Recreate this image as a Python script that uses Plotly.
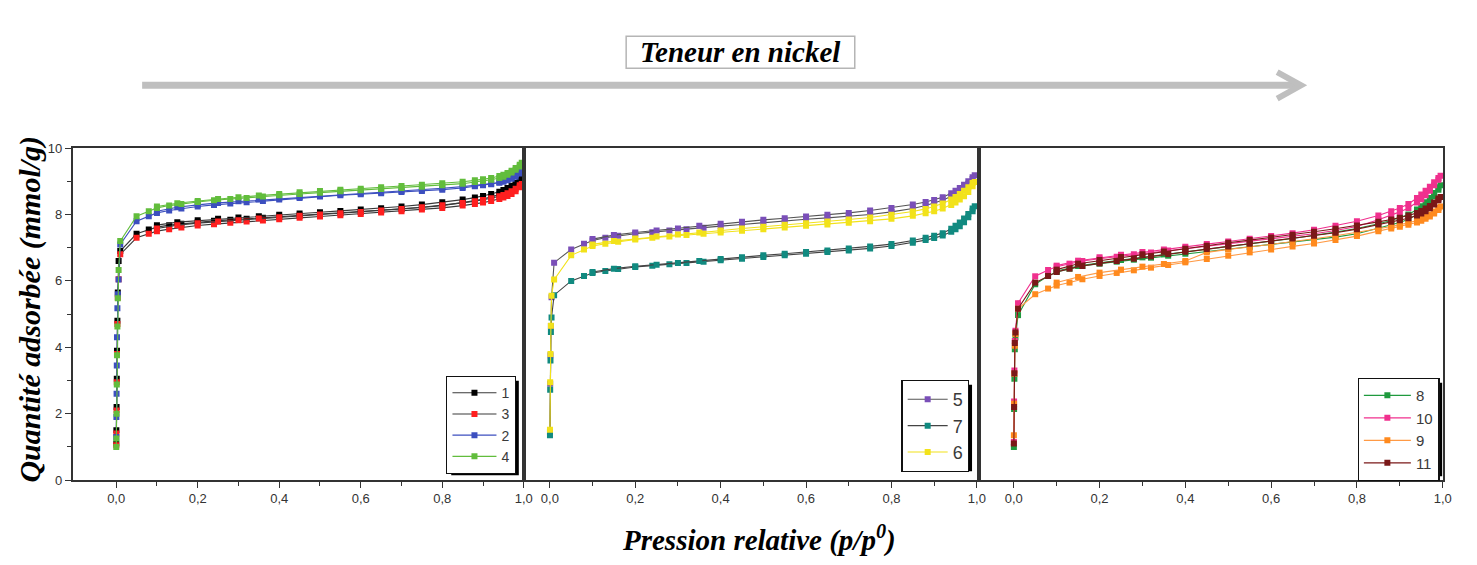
import plotly.graph_objects as go

W, H = 1477, 565


def px(x):
    return x / W


def py(y):
    return 1 - y / H


# ---------------- data ----------------
P_LOW_1 = [0.0002, 0.0005, 0.001, 0.0015, 0.002, 0.003, 0.004, 0.006]
P_LOW_2 = [0.0003, 0.0008, 0.0015, 0.0025, 0.004]
P_LOW_3 = [0.0003, 0.0008, 0.0015, 0.0025, 0.004]
P_PLATEAU = [0.01, 0.05, 0.08, 0.1, 0.13, 0.16, 0.2, 0.24, 0.28, 0.32, 0.36, 0.4, 0.45, 0.5,
             0.55, 0.6, 0.65, 0.7, 0.75, 0.8, 0.85, 0.88, 0.9, 0.92, 0.94, 0.95, 0.96, 0.97,
             0.98, 0.99, 0.995]
P_DES = [0.99, 0.98, 0.97, 0.96, 0.95, 0.94, 0.92, 0.9, 0.88, 0.85, 0.8, 0.75, 0.7, 0.65,
         0.6, 0.55, 0.5, 0.45, 0.4, 0.35, 0.3, 0.25, 0.2, 0.15, 0.1]

# Panel 1
S1_ADS = [1.1, 1.5, 2.2, 3.05, 3.9, 4.8, 5.65, 6.6,
          6.9, 7.42, 7.55, 7.62, 7.68, 7.72, 7.77, 7.81, 7.84, 7.87, 7.9, 7.93, 7.97, 8.0,
          8.04, 8.08, 8.12, 8.16, 8.21, 8.27, 8.35, 8.42, 8.47, 8.53, 8.6, 8.65, 8.71, 8.79,
          8.88, 9.0, 9.1]
S1_DES = [9.05, 8.95, 8.87, 8.8, 8.74, 8.69, 8.62, 8.56, 8.51, 8.45, 8.37, 8.3, 8.24, 8.19,
          8.15, 8.11, 8.07, 8.03, 7.99, 7.95, 7.91, 7.87, 7.83, 7.77, 7.68]
S3_ADS = [1.05, 1.4, 2.1, 2.95, 3.8, 4.7, 5.5, 6.05,
          6.8, 7.3, 7.42, 7.5, 7.56, 7.61, 7.67, 7.71, 7.75, 7.79, 7.82, 7.86, 7.9, 7.94,
          7.98, 8.02, 8.06, 8.1, 8.15, 8.2, 8.27, 8.32, 8.36, 8.41, 8.47, 8.51, 8.56, 8.62,
          8.7, 8.82, 8.92]
S3_DES = [8.88, 8.78, 8.7, 8.64, 8.59, 8.55, 8.49, 8.44, 8.4, 8.35, 8.28, 8.22, 8.17, 8.12,
          8.08, 8.04, 8.0, 7.96, 7.92, 7.88, 7.83, 7.79, 7.74, 7.68, 7.58]
S2_ADS = [1.3, 1.9, 2.6, 3.45, 4.3, 5.18, 5.6, 6.04,
          7.1, 7.8, 7.95, 8.05, 8.12, 8.18, 8.24, 8.29, 8.33, 8.37, 8.41, 8.45, 8.5, 8.54,
          8.58, 8.61, 8.64, 8.68, 8.71, 8.75, 8.8, 8.85, 8.88, 8.91, 8.96, 8.99, 9.03, 9.08,
          9.14, 9.24, 9.34]
S2_DES = [9.3, 9.2, 9.12, 9.06, 9.01, 8.97, 8.93, 8.9, 8.87, 8.84, 8.79, 8.75, 8.71, 8.68,
          8.64, 8.61, 8.57, 8.53, 8.49, 8.45, 8.4, 8.35, 8.29, 8.22, 8.1]
S4_ADS = [1.0, 1.25, 2.0, 2.88, 3.76, 4.63, 5.48, 6.33,
          7.2, 7.95, 8.1, 8.2, 8.27, 8.32, 8.38, 8.43, 8.47, 8.5, 8.54, 8.58, 8.62, 8.66,
          8.7, 8.73, 8.77, 8.8, 8.84, 8.88, 8.93, 8.98, 9.01, 9.05, 9.1, 9.14, 9.2, 9.27,
          9.35, 9.45, 9.56]
S4_DES = [9.5, 9.4, 9.32, 9.25, 9.2, 9.16, 9.1, 9.06, 9.03, 8.99, 8.94, 8.9, 8.86, 8.82,
          8.78, 8.75, 8.71, 8.67, 8.62, 8.57, 8.52, 8.47, 8.41, 8.34, 8.24]

# Panel 2
S5_ADS = [1.45, 2.9, 3.76, 4.64, 5.51,
          6.55, 6.95, 7.12, 7.22, 7.3, 7.36, 7.42, 7.47, 7.52, 7.56, 7.6, 7.65, 7.7, 7.76,
          7.81, 7.86, 7.9, 7.95, 8.0, 8.08, 8.18, 8.27, 8.34, 8.43, 8.55, 8.62, 8.71, 8.81,
          8.93, 9.07, 9.18]
S5_DES = [9.12, 9.0, 8.9, 8.8, 8.72, 8.64, 8.52, 8.44, 8.38, 8.3, 8.2, 8.12, 8.05, 7.99,
          7.94, 7.89, 7.84, 7.78, 7.72, 7.66, 7.58, 7.52, 7.46, 7.38, 7.26]
S7_ADS = [1.35, 2.72, 3.6, 4.46, 4.9,
          5.57, 6.0, 6.15, 6.24, 6.3, 6.36, 6.42, 6.46, 6.5, 6.54, 6.58, 6.62, 6.67, 6.72,
          6.77, 6.82, 6.87, 6.92, 6.98, 7.05, 7.15, 7.23, 7.29, 7.37, 7.48, 7.56, 7.65, 7.77,
          7.92, 8.1, 8.25]
S7_DES = [8.18, 8.02, 7.88, 7.76, 7.66, 7.57, 7.44, 7.36, 7.3, 7.22, 7.11, 7.04, 6.98, 6.92,
          6.87, 6.82, 6.77, 6.71, 6.66, 6.6, 6.54, 6.49, 6.44, 6.37, 6.27]
S6_ADS = [1.52, 2.95, 3.8, 4.65, 5.55,
          6.04, 6.77, 6.95, 7.05, 7.12, 7.18, 7.25, 7.3, 7.34, 7.38, 7.42, 7.46, 7.51, 7.56,
          7.61, 7.66, 7.7, 7.75, 7.8, 7.87, 7.96, 8.04, 8.1, 8.18, 8.29, 8.36, 8.45, 8.55,
          8.68, 8.85, 8.98]
S6_DES = [8.95, 8.82, 8.72, 8.62, 8.53, 8.45, 8.33, 8.24, 8.17, 8.09, 7.99, 7.91, 7.85, 7.79,
          7.74, 7.69, 7.63, 7.58, 7.52, 7.46, 7.4, 7.34, 7.28, 7.2, 7.1]

# Panel 3
S8_ADS = [1.0, 2.14, 3.05, 3.94, 4.3,
          4.97, 5.9, 6.15, 6.27, 6.37, 6.45, 6.52, 6.58, 6.64, 6.7, 6.76, 6.82, 6.9, 6.97,
          7.03, 7.1, 7.17, 7.24, 7.32, 7.42, 7.58, 7.68, 7.76, 7.86, 8.0, 8.1, 8.22, 8.37,
          8.55, 8.75, 8.88]
S8_DES = [8.82, 8.65, 8.5, 8.37, 8.25, 8.15, 8.0, 7.9, 7.82, 7.72, 7.58, 7.47, 7.37, 7.28,
          7.2, 7.12, 7.05, 6.97, 6.89, 6.8, 6.71, 6.63, 6.55, 6.45, 6.3]
S10_ADS = [1.15, 2.37, 3.3, 4.19, 4.5,
           5.33, 6.14, 6.33, 6.43, 6.52, 6.6, 6.67, 6.73, 6.8, 6.86, 6.92, 6.98, 7.05, 7.12,
           7.19, 7.26, 7.34, 7.42, 7.52, 7.64, 7.84, 7.98, 8.08, 8.2, 8.36, 8.46, 8.58, 8.72,
           8.88, 9.05, 9.17]
S10_DES = [9.1, 8.97, 8.84, 8.72, 8.6, 8.5, 8.32, 8.2, 8.1, 7.97, 7.8, 7.66, 7.54, 7.44,
           7.35, 7.27, 7.19, 7.11, 7.03, 6.95, 6.87, 6.79, 6.71, 6.61, 6.46]
S9_ADS = [1.35, 2.3, 3.2, 4.05, 4.4,
          5.16, 5.6, 5.77, 5.86, 5.95, 6.05, 6.15, 6.24, 6.32, 6.4, 6.48, 6.56, 6.66, 6.76,
          6.86, 6.95, 7.04, 7.13, 7.23, 7.35, 7.5, 7.58, 7.63, 7.69, 7.76, 7.81, 7.87, 7.94,
          8.03, 8.14, 8.24]
S9_DES = [8.2, 8.09, 8.0, 7.93, 7.87, 7.82, 7.75, 7.69, 7.64, 7.57, 7.46, 7.36, 7.27, 7.18,
          7.1, 7.02, 6.95, 6.86, 6.6, 6.51, 6.43, 6.34, 6.25, 6.12, 5.95]
S11_ADS = [1.1, 2.2, 3.22, 4.13, 4.45,
           5.16, 5.95, 6.15, 6.27, 6.37, 6.45, 6.53, 6.6, 6.67, 6.74, 6.81, 6.88, 6.96, 7.04,
           7.12, 7.2, 7.28, 7.36, 7.45, 7.56, 7.7, 7.78, 7.83, 7.89, 7.97, 8.03, 8.1, 8.19,
           8.3, 8.43, 8.53]
S11_DES = [8.48, 8.36, 8.26, 8.18, 8.11, 8.05, 7.97, 7.9, 7.85, 7.78, 7.67, 7.57, 7.48, 7.39,
           7.31, 7.23, 7.15, 7.06, 6.97, 6.89, 6.8, 6.72, 6.63, 6.52, 6.34]

X_TICKS = [0.0, 0.2, 0.4, 0.6, 0.8, 1.0]
X_TICK_TEXT = ["0,0", "0,2", "0,4", "0,6", "0,8", "1,0"]
X_MINOR = [0.1, 0.3, 0.5, 0.7, 0.9]
Y_TICKS = [0, 2, 4, 6, 8, 10]
Y_MINOR = [1, 3, 5, 7, 9]

# (label, panel, ads, des, line colour, marker colour, p_low)
SERIES = [
    ("1", 1, S1_ADS, S1_DES, "#3a3a3a", "#000000", P_LOW_1),
    ("3", 1, S3_ADS, S3_DES, "#3a3a3a", "#ff1f1f", P_LOW_1),
    ("2", 1, S2_ADS, S2_DES, "#3c4fbf", "#3c4fbf", P_LOW_1),
    ("4", 1, S4_ADS, S4_DES, "#62bd3c", "#62bd3c", P_LOW_1),
    ("5", 2, S5_ADS, S5_DES, "#555555", "#7a4fb8", P_LOW_2),
    ("7", 2, S7_ADS, S7_DES, "#444444", "#118a80", P_LOW_2),
    ("6", 2, S6_ADS, S6_DES, "#f2e21a", "#f2e21a", P_LOW_2),
    ("8", 3, S8_ADS, S8_DES, "#1f9a3e", "#1f9a3e", P_LOW_3),
    ("10", 3, S10_ADS, S10_DES, "#f0308e", "#f0308e", P_LOW_3),
    ("9", 3, S9_ADS, S9_DES, "#ff9a45", "#ff8a1e", P_LOW_3),
    ("11", 3, S11_ADS, S11_DES, "#7a1818", "#7a1818", P_LOW_3),
]

fig = go.Figure()
for label, panel, ads, des, lc, mc, plow in SERIES:
    xa = "x" if panel == 1 else f"x{panel}"
    ya = "y" if panel == 1 else f"y{panel}"
    leg = "legend" if panel == 1 else f"legend{panel}"
    common = dict(mode="lines+markers", xaxis=xa, yaxis=ya, legend=leg,
                  legendgroup=label, line=dict(color=lc, width=1.1),
                  marker=dict(symbol="square", size=6, color=mc))
    fig.add_trace(go.Scatter(x=plow + P_PLATEAU, y=ads, name=label, showlegend=True, **common))
    fig.add_trace(go.Scatter(x=P_DES, y=des, name=label, showlegend=False, **common))

# ---------------- layout ----------------
AX_COL = "#333333"
tick_font = dict(family="Liberation Sans", size=13, color="#333333")
panels = [
    (1, 73, 527, [-0.107, 1.0]),
    (2, 527, 985, [-0.061, 1.005]),
    (3, 985, 1452, [-0.081, 1.001]),
]
y_dom = [py(486), py(145)]
lay = {}
for i, l, r, rng in panels:
    sfx = "" if i == 1 else str(i)
    lay[f"xaxis{sfx}"] = dict(
        domain=[px(l), px(r)], range=rng, anchor="y" if i == 1 else f"y{i}",
        showgrid=False, zeroline=False, showline=True, linecolor=AX_COL, linewidth=1.5,
        mirror=True, ticks="outside", ticklen=6, tickwidth=1.2, tickcolor=AX_COL,
        tickmode="array", tickvals=X_TICKS, ticktext=X_TICK_TEXT, tickfont=tick_font,
        minor=dict(ticks="outside", ticklen=4, tickwidth=1.1, tickcolor=AX_COL,
                   tickmode="array", tickvals=X_MINOR),
    )
    yd = dict(
        domain=y_dom, range=[0, 10], anchor="x" if i == 1 else f"x{i}",
        showgrid=False, zeroline=False, showline=True, linecolor=AX_COL, linewidth=1.5,
        mirror=True,
    )
    if i == 1:
        yd.update(ticks="outside", ticklen=6, tickwidth=1.2, tickcolor=AX_COL,
                  tickmode="array", tickvals=Y_TICKS, tickfont=tick_font,
                  minor=dict(ticks="outside", ticklen=4, tickwidth=1.1, tickcolor=AX_COL,
                             tickmode="array", tickvals=Y_MINOR))
    else:
        yd.update(ticks="", showticklabels=False)
    lay[f"yaxis{sfx}"] = yd

# legend: key -> (left, top, right, bottom, font size, itemwidth)
legend_boxes = {
    "legend": (449, 379, 517, 476, 14, 44),
    "legend2": (907, 383, 973, 472, 18, 40),
    "legend3": (1366, 381, 1446, 477, 15, 47),
}
for key, (lx, ty, rx, by, fs, iw) in legend_boxes.items():
    lay[key] = dict(x=px(lx), y=py(ty), xanchor="left", yanchor="top", bgcolor="white",
                    bordercolor="#111111", borderwidth=1.2, tracegroupgap=0,
                    font=dict(family="Liberation Sans", size=fs, color="#3a3a3a"),
                    itemwidth=iw, traceorder="normal")

shapes = []
# legend shadows
for (l, t, r, b, *_rest) in legend_boxes.values():
    shapes.append(dict(type="rect", xref="paper", yref="paper",
                       x0=px(l + 5), x1=px(r + 5), y0=py(b + 5), y1=py(t + 5),
                       fillcolor="black", line=dict(width=0), layer="above"))
# title box
shapes.append(dict(type="rect", xref="paper", yref="paper", x0=px(630), x1=px(860),
                   y0=py(63), y1=py(30), line=dict(color="#b5b5b5", width=1.5),
                   fillcolor="white", layer="below"))
# arrow
shapes.append(dict(type="line", xref="paper", yref="paper", x0=px(143), x1=px(1306),
                   y0=py(80.5), y1=py(80.5), line=dict(color="#bfbfbf", width=7)))
shapes.append(dict(type="path", xref="paper", yref="paper",
                   path=f"M {px(1285)},{py(67)} L {px(1309)},{py(80.5)} L {px(1285)},{py(94)}",
                   line=dict(color="#bfbfbf", width=6)))

serif = "Liberation Serif"
annotations = [
    dict(text="Teneur en nickel", xref="paper", yref="paper", x=px(745), y=py(46.5),
         xanchor="center", yanchor="middle", showarrow=False,
         font=dict(family=serif, size=29, color="#000000", weight="bold", style="italic")),
    dict(text="Quantité adsorbée (mmol/g)", xref="paper", yref="paper", x=px(30), y=py(310),
         xanchor="center", yanchor="middle", showarrow=False, textangle=-90,
         font=dict(family=serif, size=30, color="#000000", weight="bold", style="italic")),
    dict(text="Pression relative (p/p<sup>0</sup>)", xref="paper", yref="paper", x=px(764),
         y=py(546), xanchor="center", yanchor="middle", showarrow=False,
         font=dict(family=serif, size=29, color="#000000", weight="bold", style="italic")),
]

fig.update_layout(
    width=W, height=H, margin=dict(l=0, r=0, t=0, b=0),
    paper_bgcolor="white", plot_bgcolor="white",
    shapes=shapes, annotations=annotations, **lay,
)

fig.write_html("out.html")
